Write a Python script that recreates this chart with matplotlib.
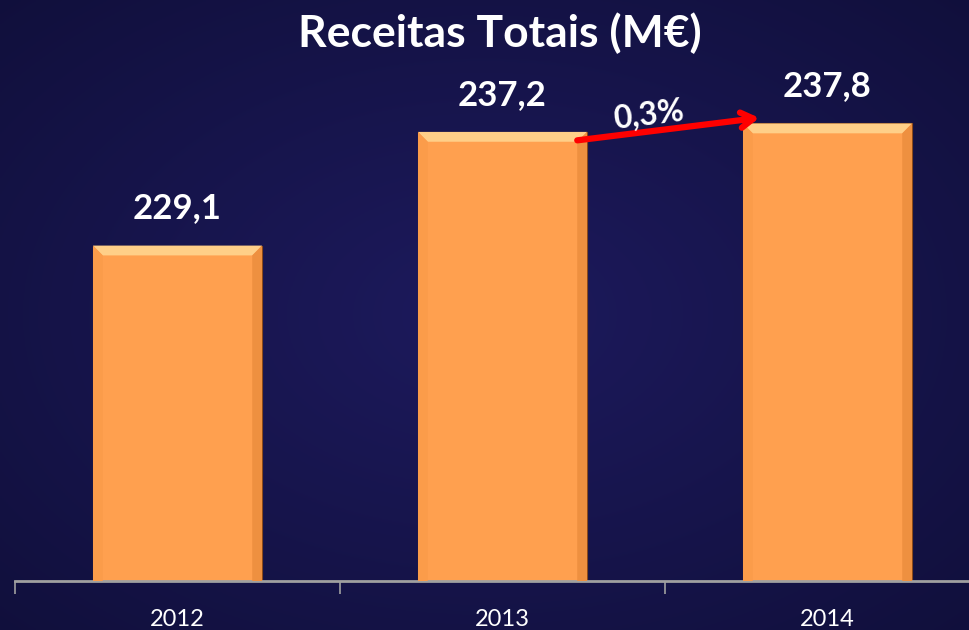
import matplotlib
matplotlib.use("Agg")
import matplotlib.pyplot as plt
import numpy as np
from matplotlib.patches import Polygon

# data
years = ["2012", "2013", "2014"]
receitas = [229.1, 237.2, 237.8]
labels = ["229,1", "237,2", "237,8"]
growth_label = "0,3%"

plt.rcParams['font.family'] = ['Lato', 'DejaVu Sans']

fig = plt.figure(figsize=(9.7, 6.3), dpi=100)

# background radial gradient
bg = fig.add_axes([0, 0, 1, 1], zorder=0)
yy, xx = np.mgrid[0:1:300j, 0:1:460j]
r = np.sqrt(((xx - 0.5) / 0.75) ** 2 + ((yy - 0.5) / 0.75) ** 2)
r = np.clip(r, 0, 1)
c_in = np.array([0x1d, 0x1a, 0x5d]) / 255
c_out = np.array([0x10, 0x0f, 0x3a]) / 255
img = c_in[None, None, :] * (1 - r[..., None]) + c_out[None, None, :] * r[..., None]
bg.imshow(img, extent=[0, 1, 0, 1], aspect='auto', origin='lower')
bg.set_axis_off()

ax = fig.add_axes([15 / 970, 49 / 630, 975 / 970, 581 / 630], zorder=1)
ax.patch.set_alpha(0)
x = np.arange(len(years))
bars = ax.bar(x, receitas, width=0.52, bottom=0, color='#ffa04f',
              edgecolor='#8a4a1a', linewidth=0.8, zorder=2)
ax.set_ylim(205.2, 246.6)
ax.set_xlim(-0.5, 2.5)

# bevel on top and sides of the bars
dx, dy = 0.03, 0.7
for rect in bars:
    x0 = rect.get_x()
    x1 = x0 + rect.get_width()
    top = rect.get_y() + rect.get_height()
    ax.add_patch(Polygon([[x0, top], [x1, top], [x1 - dx, top - dy], [x0 + dx, top - dy]],
                         closed=True, facecolor='#ffcf88', edgecolor='none', zorder=3))
    ax.add_patch(Polygon([[x0, top], [x0 + dx, top - dy], [x0 + dx, 205.2], [x0, 205.2]],
                         closed=True, facecolor='#fb9c4a', edgecolor='none', zorder=3))
    ax.add_patch(Polygon([[x1, top], [x1 - dx, top - dy], [x1 - dx, 205.2], [x1, 205.2]],
                         closed=True, facecolor='#ee9040', edgecolor='none', zorder=3))

for xi, v, lab in zip(x, receitas, labels):
    ax.text(xi, v + 1.5, lab, ha='center', va='bottom', color='white',
            fontsize=25, fontweight='bold', zorder=4)

# growth arrow between 2013 and 2014
ax.annotate("", xy=(1.79, 238.2), xytext=(1.23, 236.6),
            arrowprops=dict(arrowstyle='->,head_length=0.9,head_width=0.55', color='#ff0000',
                            lw=4.5, shrinkA=0, shrinkB=0), zorder=5)
ax.text(1.45, 238.45, growth_label, ha='center', va='center', rotation=7, color='white',
        fontsize=23, fontweight='bold', zorder=6)

ax.set_xticks(np.arange(-0.5, 3.0, 1.0), minor=False)
ax.set_xticklabels([])
ax.set_xticks(x, minor=True)
ax.set_xticklabels(years, minor=True)
ax.tick_params(axis='x', which='major', length=9, width=1.2, color='#a0a0a0', direction='out')
ax.tick_params(axis='x', which='minor', length=0, pad=20, labelsize=17, labelcolor='white')
for lab in ax.get_xticklabels(minor=True):
    lab.set_family(['Liberation Sans Narrow', 'Lato', 'DejaVu Sans'])
ax.set_yticks([])
for s in ['left', 'right', 'top']:
    ax.spines[s].set_visible(False)
ax.spines['bottom'].set_color('#a0a0a0')
ax.spines['bottom'].set_linewidth(2)

fig.text(0.515, 0.948, "Receitas Totais (M€)", ha='center', va='center', color='white',
         fontsize=32, fontweight='bold', zorder=10)

fig.savefig("out.png", dpi=100)
